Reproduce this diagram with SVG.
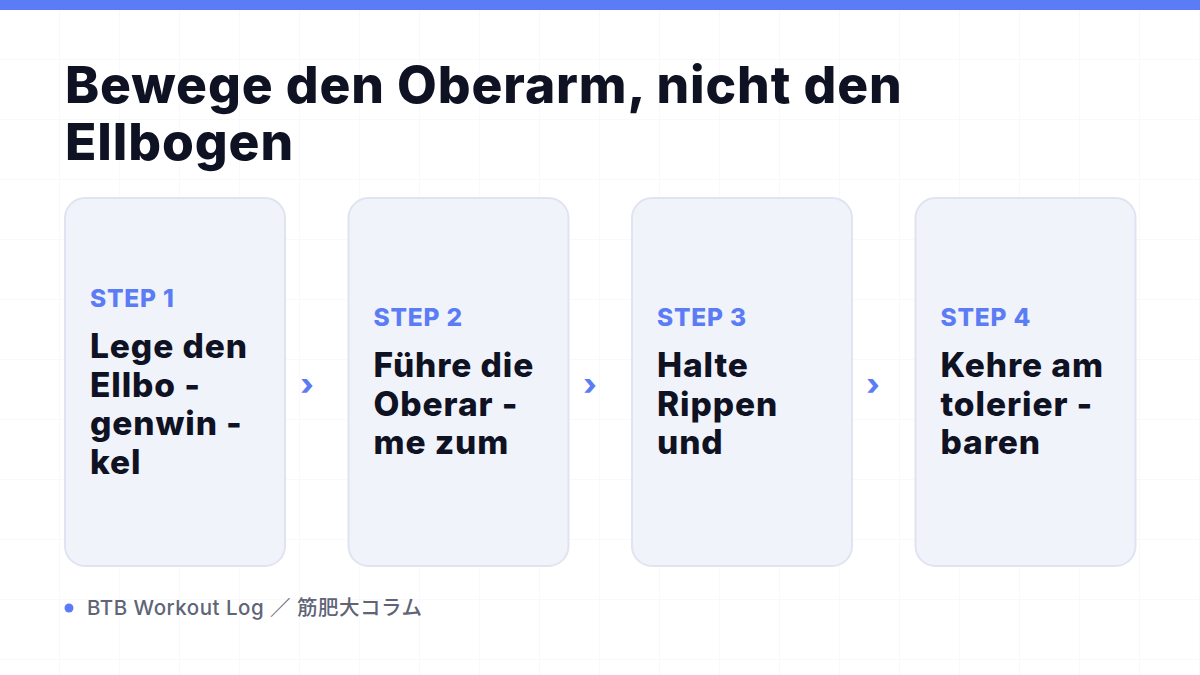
<svg xmlns="http://www.w3.org/2000/svg" width="1200" height="675" viewBox="0 0 1200 675">
  <defs>
    <pattern id="grid" width="60" height="60" patternUnits="userSpaceOnUse">
      <path d="M60 0 V60 M0 60 H60" fill="none" stroke="#f2f3f6" stroke-width="1"/>
    </pattern>
    <style>
      .card { fill: #f1f3fb; stroke: #e0e4f0; stroke-width: 2; }
      .step { font-family: Inter, "Noto Sans", sans-serif; font-weight: 800; font-size: 24.5px; letter-spacing: 0.8px; fill: #5b7cf5; }
      .body { font-family: Inter, "Noto Sans", sans-serif; font-weight: 800; font-size: 33.5px; letter-spacing: 0.9px; fill: #0f1222; }
      .title { font-family: Inter, "Noto Sans", sans-serif; font-weight: 800; font-size: 51.5px; letter-spacing: 0.9px; fill: #0f1222; }
      .chev { font-family: Inter, "Noto Sans", sans-serif; font-weight: 800; font-size: 30px; fill: #5b7cf5; }
      .foot { font-family: Inter, "Noto Sans CJK JP", sans-serif; font-weight: 500; font-size: 20.5px; letter-spacing: 0.5px; fill: #5f6577; }
    </style>
  </defs>
  <rect width="1200" height="675" fill="#ffffff"/>
  <rect width="1200" height="675" fill="url(#grid)"/>
  <rect x="0" y="0" width="1200" height="10" fill="#5b7cf6"/>

  <g id="title">
    <text class="title" x="65" y="103">Bewege den Oberarm, nicht den</text>
    <text class="title" x="65" y="160">Ellbogen</text>
  </g>

  <g id="step1">
    <rect class="card" x="65" y="198" width="220" height="368" rx="20"/>
    <text class="step" x="90" y="307">STEP 1</text>
    <text class="body" x="90" y="358">Lege den</text>
    <text class="body" x="90" y="396.5">Ellbo -</text>
    <text class="body" x="90" y="435">genwin -</text>
    <text class="body" x="90" y="473.5">kel</text>
  </g>

  <g id="step2">
    <rect class="card" x="348.5" y="198" width="220" height="368" rx="20"/>
    <text class="step" x="373.5" y="326">STEP 2</text>
    <text class="body" x="373.5" y="377">Führe die</text>
    <text class="body" x="373.5" y="415.5">Oberar -</text>
    <text class="body" x="373.5" y="454">me zum</text>
  </g>

  <g id="step3">
    <rect class="card" x="632" y="198" width="220" height="368" rx="20"/>
    <text class="step" x="657" y="326">STEP 3</text>
    <text class="body" x="657" y="377">Halte</text>
    <text class="body" x="657" y="415.5">Rippen</text>
    <text class="body" x="657" y="454">und</text>
  </g>

  <g id="step4">
    <rect class="card" x="915.5" y="198" width="220" height="368" rx="20"/>
    <text class="step" x="940.5" y="326">STEP 4</text>
    <text class="body" x="940.5" y="377">Kehre am</text>
    <text class="body" x="940.5" y="415.5">tolerier -</text>
    <text class="body" x="940.5" y="454">baren</text>
  </g>

  <g id="connectors">
    <text class="chev" x="307" y="395" text-anchor="middle">›</text>
    <text class="chev" x="590" y="395" text-anchor="middle">›</text>
    <text class="chev" x="873" y="395" text-anchor="middle">›</text>
  </g>

  <g id="footer">
    <circle cx="69" cy="608" r="4.5" fill="#5b7cf6"/>
    <text class="foot" x="87" y="615">BTB Workout Log ／ 筋肥大コラム</text>
  </g>
</svg>
